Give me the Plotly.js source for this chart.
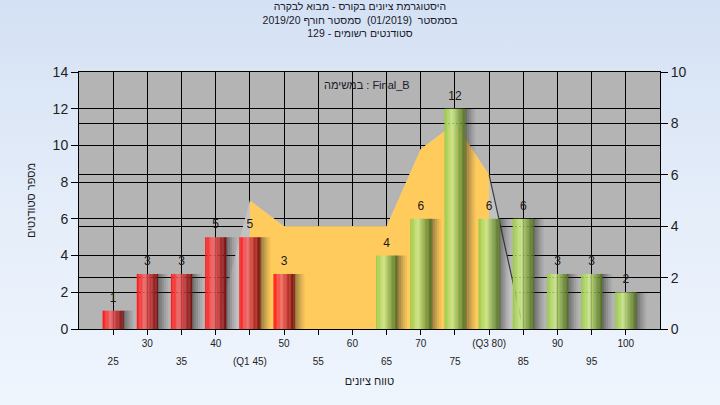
<!DOCTYPE html>
<html>
<head>
<meta charset="utf-8">
<script src="https://cdn.plot.ly/plotly-3.0.1.min.js"></script>
<style>
  html, body { margin:0; padding:0; }
  body { width:720px; height:405px; background: linear-gradient(to bottom, #d4e1f4 0%, #e6eefa 55%, #eff5fd 100%); }
  #chart { width:720px; height:405px; }
</style>
</head>
<body>
<div id="chart"></div>
<script>
// ---- data ----
const grades = [25,30,35,40,45,50,55,60,65,70,75,80,85,90,95,100];
const tickLabels = ['25','30','35','40','(Q1 45)','50','55','60','65','70','75','(Q3 80)','85','90','95','100'];
const counts = [1,3,3,5,5,3,0,0,4,6,12,6,6,3,3,2];
const areaGrades = [40,45,50,55,60,65,70,75,80,85];
const areaValues = [0,5,4,4,4,4,7,8,6,0];
const q1Grade = 45;
const q3Grade = 80;
const passGrade = 55;
const titleLines = ['היסטוגרמת ציונים בקורס - מבוא לבקרה', 'בסמסטר  (01/2019)  סמסטר חורף 2019/20', 'סטודנטים רשומים - 129'];
const xTitle = 'טווח ציונים';
const yTitle = 'מספר סטודנטים';
const seriesLabel = 'במשימה : Final_B';

// ---- helpers ----
const FONT = 'Liberation Sans, DejaVu Sans, Arial, sans-serif';
const idx = grades.map((g,i)=>i);
const gi = g => grades.indexOf(g);

function lerp(a,b,t){ return a+(b-a)*t; }
function grad(stops, t){
  for (let i=0;i<stops.length-1;i++){
    const [t0,c0]=stops[i], [t1,c1]=stops[i+1];
    if (t>=t0 && t<=t1){
      const u=(t-t0)/(t1-t0);
      return 'rgb('+c0.map((v,j)=>Math.round(lerp(v,c1[j],u))).join(',')+')';
    }
  }
  const c=stops[stops.length-1][1]; return 'rgb('+c.join(',')+')';
}
const redStops = [[0,[255,22,22]],[0.18,[250,60,60]],[0.38,[238,112,112]],[0.55,[215,70,70]],[0.8,[160,35,35]],[1,[115,18,18]]];
const greenStops = [[0,[155,200,75]],[0.2,[180,218,105]],[0.38,[205,232,145]],[0.58,[160,190,95]],[0.8,[115,145,60]],[1,[82,108,38]]];

const traces = [];

// areas (right axis)
traces.push({type:'scatter', x:areaGrades.map(gi), y:areaValues, xaxis:'x', yaxis:'y', mode:'lines',
  fill:'tozeroy', fillcolor:'#c2c2c2', line:{width:0, color:'#c2c2c2'}, hoverinfo:'skip', showlegend:false});
const iqrG = areaGrades.filter(g=>g>=q1Grade && g<=q3Grade);
const iqrV = areaValues.filter((v,i)=>areaGrades[i]>=q1Grade && areaGrades[i]<=q3Grade);
traces.push({type:'scatter', x:iqrG.map(gi), y:iqrV, xaxis:'x', yaxis:'y', mode:'lines',
  fill:'tozeroy', fillcolor:'#ffcb5c', line:{width:0, color:'#ffcb5c'}, hoverinfo:'skip', showlegend:false});
const tailG = areaGrades.filter(g=>g>=q3Grade);
const tailV = areaValues.filter((v,i)=>areaGrades[i]>=q3Grade);
traces.push({type:'scatter', x:tailG.map(gi), y:tailV, xaxis:'x', yaxis:'y', mode:'lines',
  line:{width:1.2, color:'#3c3c3c'}, hoverinfo:'skip', showlegend:false});

// bars (left axis): soft shadow then cylinder strips
const W = 0.62, N = 16;
const shadowA = [0.5,0.38,0.26,0.15,0.07];
const sw = 0.06;
shadowA.forEach((a,s)=>{
  traces.push({type:'bar', x:idx, y:counts, xaxis:'x', yaxis:'y2', width:sw, offset: W/2 - 0.01 + s*sw,
    marker:{color:'rgba(40,40,40,'+a+')', line:{width:0}}, hoverinfo:'skip', showlegend:false});
});
for (let k=0;k<N;k++){
  const t=(k+0.5)/N;
  traces.push({type:'bar', x:idx, y:counts, xaxis:'x', yaxis:'y2', width:W/N*1.08, offset:-W/2 + k*W/N,
    marker:{color:grades.map(g=> g<passGrade ? grad(redStops,t) : grad(greenStops,t)), line:{width:0}},
    hoverinfo:'skip', showlegend:false});
}
// value labels
traces.push({type:'scatter', x:idx, y:counts, xaxis:'x2', yaxis:'y2', mode:'markers+text',
  marker:{size:8, color:'rgba(0,0,0,0)'},
  text:counts.map(c=> c>0 ? String(c) : ''), textposition:'top center',
  textfont:{family:FONT, size:12, color:'#1a1a1a'}, cliponaxis:false, hoverinfo:'skip', showlegend:false});

const row1Text = tickLabels.map((t,i)=> i%2===1 ? t : '');
const row2Vals = idx.filter(i=>i%2===0);
const row2Text = row2Vals.map(i=>tickLabels[i]);

const layout = {
  width:720, height:405,
  margin:{l:79, r:60, t:72, b:76},
  paper_bgcolor:'rgba(0,0,0,0)',
  plot_bgcolor:'#b4b4b4',
  barmode:'overlay',
  hovermode:false,
  showlegend:false,
  font:{family:FONT, color:'#1e1e1e'},
  title:{text: titleLines.join('<br>'), font:{family:FONT, size:10.5, color:'#1a1a2a'},
    x:0.5, xref:'container', xanchor:'center', y:1-10/405, yref:'container', yanchor:'top'},
  xaxis:{range:[-1,16], tickmode:'array', tickvals:idx, ticktext:row1Text,
    showgrid:true, gridcolor:'#000', gridwidth:1, zeroline:false,
    showline:true, linecolor:'#000', linewidth:1, mirror:true,
    ticks:'outside', ticklen:5, tickcolor:'#000', tickfont:{family:FONT, size:10, color:'#222'},
    title:{text:xTitle, font:{family:FONT, size:11, color:'#1a1a1a'}, standoff:29}},
  xaxis2:{range:[-1,16], overlaying:'x', anchor:'y', side:'bottom', tickmode:'array', tickvals:row2Vals, ticktext:row2Text,
    showgrid:false, zeroline:false, showline:false, ticks:'', ticklabelstandoff:25,
    tickfont:{family:FONT, size:10, color:'#222'}},
  yaxis:{range:[0,10], side:'right', anchor:'x', tickmode:'linear', tick0:0, dtick:2,
    showgrid:true, gridcolor:'#000', gridwidth:1, zeroline:false,
    showline:true, linecolor:'#000', linewidth:1,
    ticks:'outside', ticklen:7, tickcolor:'#000', tickfont:{family:FONT, size:14, color:'#1e1e1e'}},
  yaxis2:{range:[0,14], side:'left', overlaying:'y', anchor:'x', tickmode:'linear', tick0:0, dtick:2,
    showgrid:true, gridcolor:'#000', gridwidth:1, zeroline:false,
    showline:true, linecolor:'#000', linewidth:1,
    ticks:'outside', ticklen:7, tickcolor:'#000', tickfont:{family:FONT, size:14, color:'#1e1e1e'},
    title:{text:yTitle, font:{family:FONT, size:11, color:'#1a1a1a'}, standoff:14}},
  annotations:[{text:seriesLabel, xref:'paper', yref:'paper', x:(367-79)/581, y:(329-85)/257,
    xanchor:'center', yanchor:'middle', showarrow:false, font:{family:FONT, size:11, color:'#1a1a2a'}}]
};

Plotly.newPlot('chart', traces, layout, {staticPlot:true, displayModeBar:false});
</script>
</body>
</html>
